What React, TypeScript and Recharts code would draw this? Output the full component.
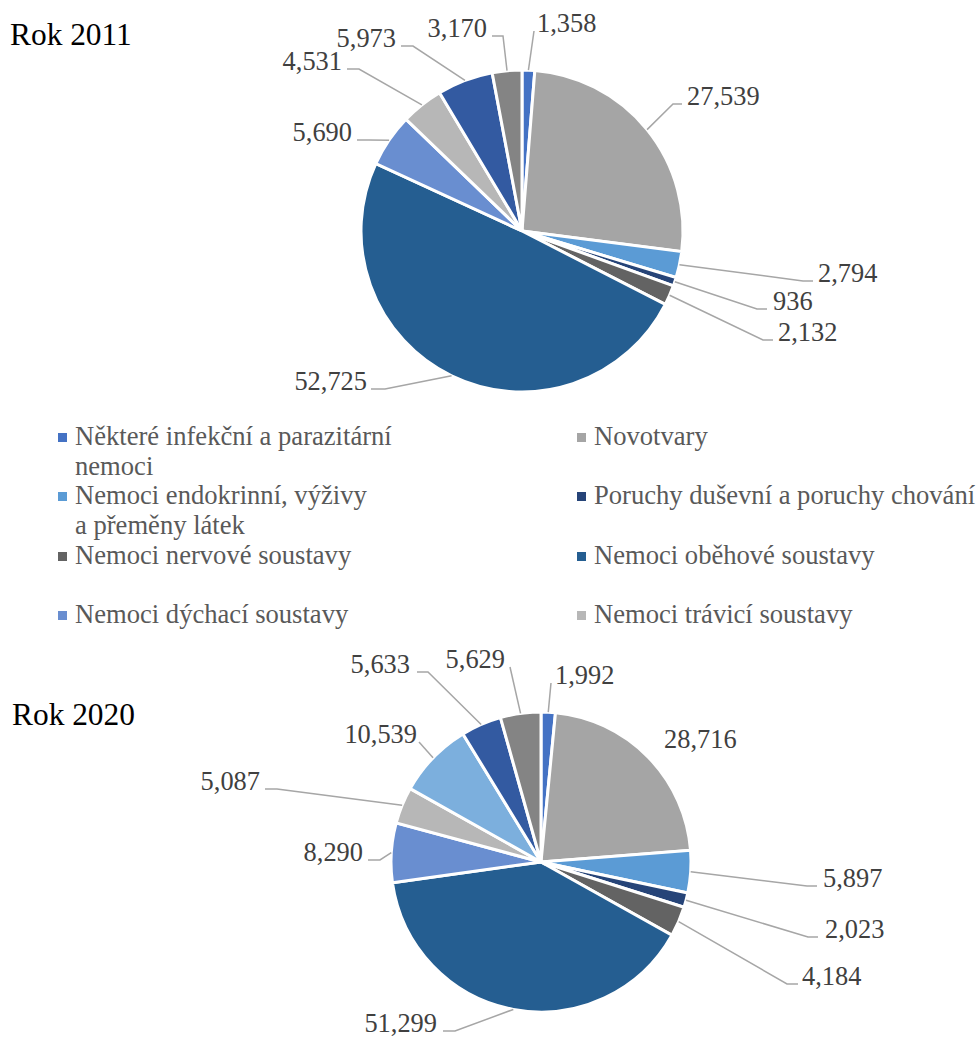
import React from 'react';
import { PieChart, Pie, Cell } from 'recharts';

const categories = [
  'Některé infekční a parazitární nemoci',
  'Novotvary',
  'Nemoci endokrinní, výživy a přeměny látek',
  'Poruchy duševní a poruchy chování',
  'Nemoci nervové soustavy',
  'Nemoci oběhové soustavy',
  'Nemoci dýchací soustavy',
  'Nemoci trávicí soustavy',
  'Ostatní skupina 9',
  'Ostatní skupina 10',
  'Ostatní skupina 11',
];

const values2011 = [1358, 27539, 2794, 936, 2132, 52725, 5690, 4531, 0, 5973, 3170];
const values2020 = [1992, 28716, 5897, 2023, 4184, 51299, 8290, 5087, 10539, 5633, 5629];

const titles = ['Rok 2011', 'Rok 2020'];

// legend shows the first 8 categories, lines broken as in the original
const legendLines = [
  ['Některé infekční a parazitární', 'nemoci'],
  ['Novotvary'],
  ['Nemoci endokrinní, výživy', 'a přeměny látek'],
  ['Poruchy duševní a poruchy chování'],
  ['Nemoci nervové soustavy'],
  ['Nemoci oběhové soustavy'],
  ['Nemoci dýchací soustavy'],
  ['Nemoci trávicí soustavy'],
];

const COLORS = [
  '#4472C4', '#A5A5A5', '#5B9BD5', '#264478', '#636363', '#255E91',
  '#698ED0', '#B7B7B7', '#7CAFDD', '#335AA1', '#848484',
];

type LabelLayout = { dx: number; dy: number; anchor: 'start' | 'end'; h: number; gap: number; line?: boolean };

// label placement (relative to pie centre), keyed by category index
const layout2011: Record<number, LabelLayout> = {
  0: { dx: 15, dy: -199, anchor: 'start', h: 0, gap: 3 },
  1: { dx: 165, dy: -126, anchor: 'start', h: 9, gap: 5 },
  2: { dx: 296, dy: 51, anchor: 'start', h: 10, gap: 5 },
  3: { dx: 251, dy: 79, anchor: 'start', h: 10, gap: 6 },
  4: { dx: 256, dy: 110, anchor: 'start', h: 10, gap: 5 },
  5: { dx: -155, dy: 159, anchor: 'end', h: 14, gap: 4 },
  6: { dx: -170, dy: -90, anchor: 'end', h: 12, gap: 5 },
  7: { dx: -180, dy: -161, anchor: 'end', h: 12, gap: 5 },
  9: { dx: -126, dy: -184, anchor: 'end', h: 12, gap: 5 },
  10: { dx: -35, dy: -194, anchor: 'end', h: 11, gap: 5 },
};

const layout2020: Record<number, LabelLayout> = {
  0: { dx: 14, dy: -178, anchor: 'start', h: 0, gap: 4 },
  1: { dx: 123, dy: -114, anchor: 'start', h: 0, gap: 0, line: false },
  2: { dx: 282, dy: 25, anchor: 'start', h: 10, gap: 6 },
  3: { dx: 284, dy: 76, anchor: 'start', h: 10, gap: 7 },
  4: { dx: 261, dy: 123, anchor: 'start', h: 11, gap: 4 },
  5: { dx: -104, dy: 170, anchor: 'end', h: 12, gap: 6 },
  6: { dx: -178, dy: -1, anchor: 'end', h: 12, gap: 5 },
  7: { dx: -281, dy: -72, anchor: 'end', h: 12, gap: 5 },
  8: { dx: -124, dy: -119, anchor: 'end', h: 0, gap: 2 },
  9: { dx: -131, dy: -189, anchor: 'end', h: 11, gap: 7 },
  10: { dx: -36, dy: -194, anchor: 'end', h: 0, gap: 5 },
};

const build = (vals: number[]) =>
  categories
    .map((name, idx) => ({ name, idx, value: vals[idx] }))
    .filter((d) => d.value > 0);

const data2011 = build(values2011);
const data2020 = build(values2020);

const RAD = Math.PI / 180;
const FONT = "'Liberation Serif', 'DejaVu Serif', 'Times New Roman', Times, serif";

const makeLabel = (lay: Record<number, LabelLayout>) => (props: any) => {
  const { cx, cy, midAngle, outerRadius, value } = props;
  const idx = props.payload?.idx ?? props.idx ?? props.index;
  const L = lay[idx];
  if (!L) return null;
  const tx = cx + L.dx;
  const ty = cy + L.dy;
  const ex = cx + outerRadius * Math.cos(-midAngle * RAD);
  const ey = cy + outerRadius * Math.sin(-midAngle * RAD);
  const endX = L.anchor === 'start' ? tx - L.gap : tx + L.gap;
  const elbowX = L.anchor === 'start' ? endX - L.h : endX + L.h;
  const ly = ty - 1;
  return (
    <g key={`lbl-${idx}`}>
      {L.line !== false && (
        <path
          d={`M${ex},${ey} L${elbowX},${ly} L${endX},${ly}`}
          stroke="#A6A6A6"
          strokeWidth={1.5}
          fill="none"
        />
      )}
      <text x={tx} y={ty} textAnchor={L.anchor} style={{ fontFamily: FONT }} fontSize={26.4} fill="#404040">
        {Number(value).toLocaleString('en-US')}
      </text>
    </g>
  );
};

export default function App() {
  const rowTops = [421, 480, 540, 599];
  return (
    <div style={{ position: 'absolute', left: 0, top: 0, width: 980, height: 1037, background: '#fff', fontFamily: FONT }}>
      <PieChart
        width={980}
        height={1037}
        margin={{ top: 0, right: 0, bottom: 0, left: 0 }}
        style={{ position: 'absolute', left: 0, top: 0 }}
      >
        <Pie
          data={data2011}
          dataKey="value"
          nameKey="name"
          cx={522}
          cy={231}
          outerRadius={161}
          startAngle={90}
          endAngle={-270}
          stroke="#ffffff"
          strokeWidth={3}
          isAnimationActive={false}
          label={makeLabel(layout2011)}
          labelLine={false}
        >
          {data2011.map((d) => (
            <Cell key={`a-${d.idx}`} fill={COLORS[d.idx]} />
          ))}
        </Pie>
        <Pie
          data={data2020}
          dataKey="value"
          nameKey="name"
          cx={541}
          cy={862}
          outerRadius={150}
          startAngle={90}
          endAngle={-270}
          stroke="#ffffff"
          strokeWidth={3}
          isAnimationActive={false}
          label={makeLabel(layout2020)}
          labelLine={false}
        >
          {data2020.map((d) => (
            <Cell key={`b-${d.idx}`} fill={COLORS[d.idx]} />
          ))}
        </Pie>
      </PieChart>

      <div style={{ position: 'absolute', left: 10, top: 17, fontSize: 31.4, lineHeight: '36px', color: '#000', whiteSpace: 'nowrap' }}>
        {titles[0]}
      </div>
      <div style={{ position: 'absolute', left: 12, top: 697, fontSize: 31.4, lineHeight: '36px', color: '#000', whiteSpace: 'nowrap' }}>
        {titles[1]}
      </div>

      {legendLines.map((lines, i) => {
        const col = i % 2;
        const row = Math.floor(i / 2);
        const top = rowTops[row];
        const sqX = col === 0 ? 58 : 577;
        const txX = col === 0 ? 75 : 594;
        return (
          <React.Fragment key={`lg-${i}`}>
            <div style={{ position: 'absolute', left: sqX, top: top + 12, width: 9, height: 9, background: COLORS[i] }} />
            <div style={{ position: 'absolute', left: txX, top, fontSize: 26.6, lineHeight: '30px', color: '#595959', whiteSpace: 'nowrap' }}>
              {lines.map((l, j) => (
                <div key={j}>{l}</div>
              ))}
            </div>
          </React.Fragment>
        );
      })}
    </div>
  );
}
